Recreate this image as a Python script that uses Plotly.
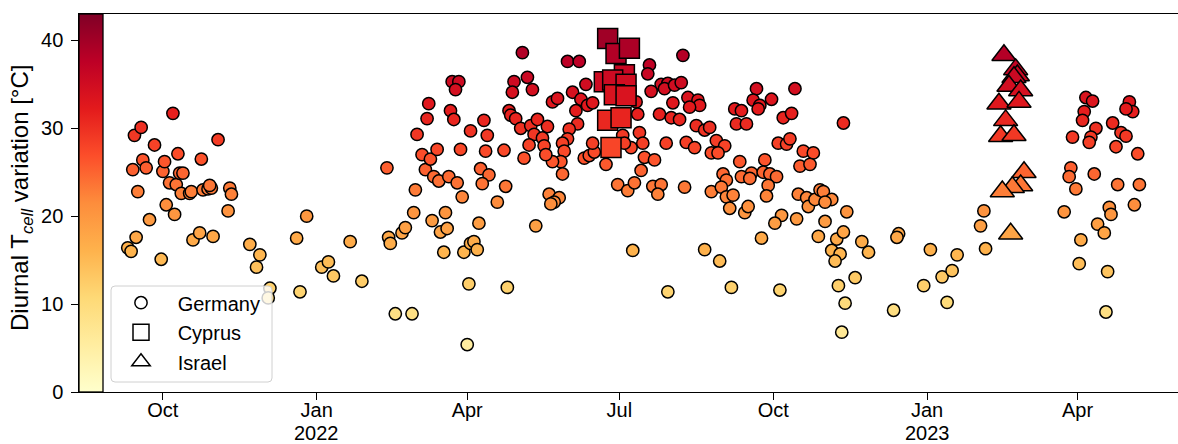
import plotly.graph_objects as go

FONT = "Liberation Sans, Arial, Helvetica, sans-serif"

# ---------------- data (date, diurnal T_cell variation in °C) ----------------
germany = [
    ("2021-09-10", 16.4), ("2021-09-12", 16.0), ("2021-09-15", 17.6), ("2021-09-14", 29.2),
    ("2021-09-18", 30.1), ("2021-09-13", 25.3), ("2021-09-16", 22.8), ("2021-09-19", 26.4),
    ("2021-09-21", 25.5), ("2021-09-26", 28.1), ("2021-09-23", 19.6), ("2021-09-30", 15.1),
    ("2021-10-01", 25.1), ("2021-10-02", 26.2), ("2021-10-03", 21.3), ("2021-10-07", 31.7),
    ("2021-10-05", 23.8), ("2021-10-08", 20.2), ("2021-10-10", 27.1), ("2021-10-09", 23.6),
    ("2021-10-11", 24.9), ("2021-10-13", 24.9), ("2021-10-12", 22.6), ("2021-10-17", 22.6),
    ("2021-10-18", 22.8), ("2021-10-19", 17.3), ("2021-10-23", 18.1), ("2021-10-24", 26.5),
    ("2021-10-25", 23.0), ("2021-10-28", 23.1), ("2021-10-30", 23.2), ("2021-10-29", 23.5),
    ("2021-10-31", 17.7), ("2021-11-03", 28.7), ("2021-11-10", 23.2), ("2021-11-11", 22.5),
    ("2021-11-09", 20.6), ("2021-11-22", 16.8), ("2021-11-28", 15.6), ("2021-11-26", 14.2),
    ("2021-12-04", 11.8), ("2021-12-03", 10.7), ("2021-12-20", 17.5), ("2021-12-22", 11.4),
    ("2021-12-26", 20.0), ("2022-01-04", 14.2), ("2022-01-08", 14.8), ("2022-01-11", 13.2),
    ("2022-01-21", 17.1), ("2022-01-28", 12.6),
    ("2022-02-12", 25.5), ("2022-02-13", 17.6), ("2022-02-14", 16.9), ("2022-02-17", 8.9),
    ("2022-02-27", 8.9), ("2022-02-21", 18.1), ("2022-02-23", 18.7), ("2022-02-28", 20.4),
    ("2022-03-11", 19.5), ("2022-03-16", 18.2), ("2022-03-20", 18.6), ("2022-03-19", 20.4),
    ("2022-03-18", 15.9), ("2022-03-30", 15.9), ("2022-04-02", 12.3), ("2022-04-01", 5.4),
    ("2022-04-03", 16.9), ("2022-04-05", 17.1), ("2022-04-07", 16.2), ("2022-04-08", 19.2),
    ("2022-03-29", 22.2), ("2022-04-19", 21.6), ("2022-03-01", 23.0), ("2022-03-07", 25.3),
    ("2022-03-05", 27.0), ("2022-03-10", 26.5), ("2022-03-14", 27.6), ("2022-03-12", 24.5),
    ("2022-03-15", 24.0), ("2022-03-21", 24.5), ("2022-03-26", 23.8), ("2022-03-28", 27.6),
    ("2022-04-09", 25.4), ("2022-04-14", 24.7), ("2022-04-10", 23.7), ("2022-04-12", 27.4),
    ("2022-04-13", 29.2), ("2022-04-03", 29.7), ("2022-04-11", 30.9), ("2022-03-02", 29.3),
    ("2022-03-08", 31.1), ("2022-03-09", 32.8), ("2022-03-22", 32.0), ("2022-03-24", 31.0),
    ("2022-03-23", 35.3), ("2022-03-27", 35.3), ("2022-03-25", 34.4), ("2022-04-23", 27.5),
    ("2022-04-24", 23.4), ("2022-05-05", 26.6), ("2022-05-04", 38.6), ("2022-05-31", 37.6),
    ("2022-06-07", 37.6), ("2022-04-29", 35.3), ("2022-05-07", 35.8), ("2022-05-10", 34.4),
    ("2022-04-28", 34.1), ("2022-05-22", 33.0), ("2022-05-25", 33.4), ("2022-06-03", 34.1),
    ("2022-06-11", 35.0), ("2022-06-08", 33.3), ("2022-06-12", 32.6), ("2022-06-15", 32.9),
    ("2022-06-05", 32.0), ("2022-06-06", 30.5), ("2022-06-01", 29.9), ("2022-05-31", 28.8),
    ("2022-05-28", 28.3), ("2022-05-29", 27.4), ("2022-05-27", 26.2), ("2022-05-22", 26.2),
    ("2022-05-28", 24.8), ("2022-04-26", 32.0), ("2022-04-27", 31.5), ("2022-04-30", 31.1),
    ("2022-05-03", 30.0), ("2022-05-09", 30.3), ("2022-05-13", 31.0), ("2022-05-19", 30.2),
    ("2022-05-11", 29.3), ("2022-05-16", 28.9), ("2022-05-17", 28.0), ("2022-05-08", 28.1),
    ("2022-05-18", 27.0), ("2022-06-10", 26.6), ("2022-06-13", 26.9), ("2022-06-16", 27.3),
    ("2022-06-15", 28.3), ("2022-04-25", 11.9), ("2022-05-12", 18.9), ("2022-05-20", 22.5),
    ("2022-05-26", 22.1), ("2022-05-23", 21.6), ("2022-05-21", 21.4),
    ("2022-08-08", 38.3), ("2022-07-19", 37.2), ("2022-07-18", 36.2), ("2022-07-26", 35.0),
    ("2022-07-30", 35.1), ("2022-07-28", 34.5), ("2022-08-03", 34.9), ("2022-08-07", 35.2),
    ("2022-07-20", 34.2), ("2022-07-11", 33.0), ("2022-07-12", 31.6), ("2022-08-02", 32.9),
    ("2022-08-11", 33.5), ("2022-08-17", 33.2), ("2022-08-18", 32.6), ("2022-08-12", 32.4),
    ("2022-07-25", 31.6), ("2022-08-01", 31.2), ("2022-08-06", 31.0), ("2022-08-16", 30.3),
    ("2022-08-21", 29.8), ("2022-08-24", 30.1), ("2022-07-13", 29.5), ("2022-07-15", 28.3),
    ("2022-07-29", 28.3), ("2022-08-10", 28.4), ("2022-08-15", 27.8), ("2022-07-08", 27.8),
    ("2022-08-28", 28.6), ("2022-09-02", 28.0), ("2022-08-25", 27.2), ("2022-08-29", 27.2),
    ("2022-07-16", 26.7), ("2022-07-22", 26.4), ("2022-07-14", 25.2), ("2022-06-23", 25.9),
    ("2022-07-03", 29.2), ("2022-07-04", 28.3), ("2022-09-11", 26.2), ("2022-09-26", 26.4),
    ("2022-09-21", 34.5), ("2022-09-19", 33.2), ("2022-09-23", 32.6), ("2022-09-22", 32.2),
    ("2022-09-30", 33.3), ("2022-10-14", 34.5), ("2022-09-08", 32.2), ("2022-09-12", 32.0),
    ("2022-09-09", 30.5), ("2022-09-15", 30.5), ("2022-10-07", 31.2), ("2022-10-12", 31.7),
    ("2022-10-04", 28.3), ("2022-10-09", 28.2), ("2022-10-11", 28.8), ("2022-10-19", 27.4),
    ("2022-10-25", 27.2), ("2022-10-17", 25.7), ("2022-10-23", 25.9), ("2022-09-01", 24.8),
    ("2022-09-18", 24.9), ("2022-09-12", 24.5), ("2022-09-25", 25.0), ("2022-09-29", 24.8),
    ("2022-10-03", 24.5), ("2022-06-30", 23.6), ("2022-07-06", 22.9), ("2022-07-10", 23.8),
    ("2022-07-21", 23.4), ("2022-07-26", 23.6), ("2022-07-24", 22.5), ("2022-08-09", 23.3),
    ("2022-08-25", 22.8), ("2022-09-03", 24.1), ("2022-08-31", 23.3), ("2022-09-03", 22.2),
    ("2022-09-07", 22.4), ("2022-09-05", 20.9), ("2022-09-14", 20.4), ("2022-09-16", 21.1),
    ("2022-09-17", 24.3), ("2022-09-28", 23.5), ("2022-09-27", 22.3), ("2022-10-06", 20.1),
    ("2022-10-02", 19.2), ("2022-10-15", 19.7), ("2022-09-24", 17.5), ("2022-10-16", 22.5),
    ("2022-10-21", 22.1), ("2022-10-22", 21.1), ("2022-10-26", 21.9), ("2022-10-29", 23.0),
    ("2022-10-28", 17.7), ("2022-07-09", 16.1), ("2022-07-30", 11.4), ("2022-08-21", 16.2),
    ("2022-08-30", 14.9), ("2022-09-06", 11.9), ("2022-10-05", 11.6),
    ("2022-11-01", 19.4), ("2022-11-08", 17.4), ("2022-11-05", 16.1), ("2022-11-10", 15.7),
    ("2022-11-07", 14.9), ("2022-11-09", 12.1), ("2022-11-11", 6.8), ("2022-11-13", 10.1),
    ("2022-11-12", 18.2), ("2022-11-14", 20.5), ("2022-10-31", 22.8), ("2022-11-05", 21.9),
    ("2022-11-01", 21.6), ("2022-11-12", 30.6), ("2022-11-23", 17.1), ("2022-11-27", 15.9),
    ("2022-11-19", 13.0), ("2022-12-12", 9.3), ("2022-12-15", 18.0), ("2022-12-14", 17.6),
    ("2023-01-03", 16.2), ("2022-12-30", 12.1), ("2023-01-10", 13.1), ("2023-01-16", 13.8),
    ("2023-01-13", 10.2), ("2023-01-19", 15.6), ("2023-02-02", 18.9), ("2023-02-04", 20.6),
    ("2023-02-05", 16.3), ("2023-03-24", 20.5), ("2023-04-03", 17.3), ("2023-04-02", 14.6),
    ("2023-04-13", 19.1), ("2023-04-17", 18.1), ("2023-04-20", 21.0), ("2023-04-21", 20.2),
    ("2023-04-19", 13.7), ("2023-04-18", 9.1), ("2023-05-05", 21.3), ("2023-04-06", 33.5),
    ("2023-04-10", 33.1), ("2023-04-05", 31.9), ("2023-04-04", 30.9), ("2023-04-12", 30.0),
    ("2023-04-09", 29.0), ("2023-04-08", 28.4), ("2023-03-29", 29.0), ("2023-04-22", 30.6),
    ("2023-04-27", 29.5), ("2023-04-30", 29.1), ("2023-04-24", 27.9), ("2023-05-02", 33.0),
    ("2023-05-04", 31.9), ("2023-04-30", 32.2), ("2023-05-07", 27.1), ("2023-03-28", 25.5),
    ("2023-03-27", 24.5), ("2023-03-31", 23.1), ("2023-04-11", 24.8), ("2023-04-25", 23.6),
    ("2023-05-08", 23.6),
]

cyprus = [
    ("2022-06-24", 40.2), ("2022-06-29", 38.5), ("2022-07-07", 39.1), ("2022-07-04", 36.1),
    ("2022-06-22", 35.3), ("2022-06-27", 35.5), ("2022-07-05", 35.0), ("2022-06-28", 33.8),
    ("2022-07-05", 33.7), ("2022-06-24", 30.9), ("2022-07-02", 31.2), ("2022-06-26", 27.8),
]

israel = [
    ("2023-02-16", 38.3), ("2023-02-23", 36.7), ("2023-02-24", 36.0), ("2023-02-22", 35.8),
    ("2023-02-19", 34.8), ("2023-02-26", 34.3), ("2023-02-13", 32.8), ("2023-02-25", 33.0),
    ("2023-02-17", 30.9), ("2023-02-14", 29.1), ("2023-02-22", 29.2), ("2023-02-28", 25.0),
    ("2023-02-26", 23.5), ("2023-02-21", 23.3), ("2023-02-15", 22.8), ("2023-02-20", 18.0),
]

tick_dates = ["2021-10-01", "2022-01-01", "2022-04-01", "2022-07-01",
              "2022-10-01", "2023-01-01", "2023-04-01"]
tick_labels = ["Oct", "Jan", "Apr", "Jul", "Oct", "Jan", "Apr"]
year_dates = ["2022-01-01", "2023-01-01"]
year_labels = ["2022", "2023"]
y_ticks = [0, 10, 20, 30, 40]
legend_names = ["Germany", "Cyprus", "Israel"]

x_range = ["2021-08-11 20:00", "2023-05-31 02:00"]
y_range = [0, 43]

YlOrRd = ["#ffffcc", "#ffeda0", "#fed976", "#feb24c", "#fd8d3c",
          "#fc4e2a", "#e31a1c", "#bd0026", "#800026"]
colorscale = [[i / (len(YlOrRd) - 1), c] for i, c in enumerate(YlOrRd)]

# ---------------- layout geometry (pixels) ----------------
W, H = 1178, 444
ML, MR, MT, MB = 79, 0, 14, 52
PW, PH = W - ML - MR, H - MT - MB


def px_to_paper(px, py):
    return (px - ML) / PW, (H - MB - py) / PH


fig = go.Figure()

series = [
    (germany, "circle", 12.3),
    (cyprus, "square", 20),
    (israel, "triangle-up", 21),
]
for pts, sym, size in series:
    xs = [p[0] for p in pts]
    ys = [p[1] for p in pts]
    fig.add_trace(go.Scatter(
        x=xs, y=ys, mode="markers", showlegend=False, hoverinfo="skip",
        marker=dict(symbol=sym, size=size, color=ys, coloraxis="coloraxis",
                    opacity=1, line=dict(color="black", width=1.5)),
    ))

# legend entries (hollow markers), each in its own legend for exact spacing
legend_keys = ["legend", "legend2", "legend3"]
legend_sizes = [12.3, 17, 17]
legend_syms = ["circle", "square", "triangle-up"]
for name, key, sym, size in zip(legend_names, legend_keys, legend_syms, legend_sizes):
    fig.add_trace(go.Scatter(
        x=[None], y=[None], mode="markers", name="\u00a0\u00a0\u00a0" + name,
        legend=key, hoverinfo="skip",
        marker=dict(symbol=sym, size=size, color="white",
                    line=dict(color="black", width=1.5)),
    ))

legend_centers_py = [302.7, 332.3, 361.7]
legend_left_px = 121
leg_layout = {}
for key, cy in zip(legend_keys, legend_centers_py):
    lx, ly = px_to_paper(legend_left_px, cy)
    leg_layout[key] = dict(
        x=lx, y=ly, xanchor="left", yanchor="middle",
        bgcolor="rgba(0,0,0,0)", borderwidth=0,
        font=dict(family=FONT, size=20, color="black"),
        itemclick=False, itemdoubleclick=False,
    )

# legend frame (rounded, semi-transparent)
bx0, by0 = px_to_paper(111, 382)
bx1, by1 = px_to_paper(272, 286)
rx, ry = 4 / PW, 4 / PH
frame_path = (
    f"M {bx0+rx},{by0} L {bx1-rx},{by0} Q {bx1},{by0} {bx1},{by0+ry} "
    f"L {bx1},{by1-ry} Q {bx1},{by1} {bx1-rx},{by1} "
    f"L {bx0+rx},{by1} Q {bx0},{by1} {bx0},{by1-ry} "
    f"L {bx0},{by0+ry} Q {bx0},{by0} {bx0+rx},{by0} Z"
)

title_x, _ = px_to_paper(21, 0)
_, title_y = px_to_paper(0, 198)
_, year_y = px_to_paper(0, 433)

annotations = [dict(
    text="Diurnal T<sub><i>cell</i></sub> variation [°C]",
    xref="paper", yref="paper", x=title_x, y=title_y,
    xanchor="center", yanchor="middle", textangle=-90, showarrow=False,
    font=dict(family=FONT, size=24, color="black"),
)]
for d, lab in zip(year_dates, year_labels):
    annotations.append(dict(
        text=lab, xref="x", yref="paper", x=d, y=year_y,
        xanchor="center", yanchor="middle", showarrow=False,
        font=dict(family=FONT, size=20, color="black"),
    ))

fig.update_layout(
    width=W, height=H,
    margin=dict(l=ML, r=MR, t=MT, b=MB, pad=0, autoexpand=False),
    paper_bgcolor="white", plot_bgcolor="white",
    font=dict(family=FONT, size=20, color="black"),
    showlegend=True,
    **leg_layout,
    coloraxis=dict(
        colorscale=colorscale, cmin=y_range[0], cmax=y_range[1],
        colorbar=dict(
            x=0, xref="paper", xanchor="left", xpad=0,
            y=0.5, yref="paper", yanchor="middle", ypad=0,
            len=1, lenmode="fraction", thickness=24, thicknessmode="pixels",
            outlinewidth=1.3, outlinecolor="black",
            ticks="", showticklabels=False,
            bgcolor="rgba(0,0,0,0)", borderwidth=0,
        ),
    ),
    xaxis=dict(
        type="date", range=x_range, tickmode="array",
        tickvals=tick_dates, ticktext=tick_labels,
        showgrid=False, zeroline=False,
        showline=True, linecolor="black", linewidth=1.3, mirror=True,
        ticks="outside", ticklen=6.5, tickwidth=1.3, tickcolor="black",
        ticklabelstandoff=-7,
        tickfont=dict(family=FONT, size=20, color="black"),
    ),
    yaxis=dict(
        range=y_range, tickmode="array", tickvals=y_ticks,
        showgrid=False, zeroline=False,
        showline=True, linecolor="black", linewidth=1.3,
        ticks="outside", ticklen=6.5, tickwidth=1.3, tickcolor="black",
        ticklabelstandoff=4,
        tickfont=dict(family=FONT, size=20, color="black"),
    ),
    shapes=[dict(
        type="path", xref="paper", yref="paper", path=frame_path,
        fillcolor="rgba(255,255,255,0.8)", line=dict(color="#d0d0d0", width=1),
        layer="above",
    )],
    annotations=annotations,
)

fig.write_html("out.html")
